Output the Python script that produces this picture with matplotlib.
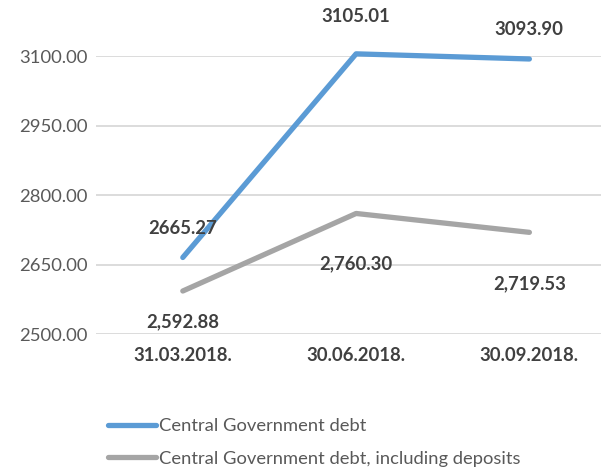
import matplotlib.pyplot as plt
from matplotlib.lines import Line2D

# data
dates = ['31.03.2018.', '30.06.2018.', '30.09.2018.']
debt = [2665.27, 3105.01, 3093.90]
debt_dep = [2592.88, 2760.30, 2719.53]
debt_labels = ['2665.27', '3105.01', '3093.90']
dep_labels = ['2,592.88', '2,760.30', '2,719.53']
yticks = [2500, 2650, 2800, 2950, 3100]

plt.rcParams['font.family'] = ['Lato', 'DejaVu Sans']

blue = '#5B9BD5'
grey = '#A5A5A5'

fig = plt.figure(figsize=(6.01, 4.68), dpi=100)
ax = fig.add_axes([0.16, 0.2863, 0.865, 0.5937])

x = range(len(dates))
ax.plot(x, debt, color=blue, lw=3.8, solid_capstyle='round', clip_on=False, zorder=3)
ax.plot(x, debt_dep, color=grey, lw=3.8, solid_capstyle='round', clip_on=False, zorder=3)

# label offsets in points (above for blue, below for grey)
up = [21, 27, 21]
down = [-22, -36, -37]
for i in x:
    ax.annotate(debt_labels[i], (i, debt[i]), xytext=(0, up[i]), textcoords='offset points',
                ha='center', va='center', fontsize=13.3, fontweight='bold', color='#404040',
                annotation_clip=False)
    ax.annotate(dep_labels[i], (i, debt_dep[i]), xytext=(0, down[i]), textcoords='offset points',
                ha='center', va='center', fontsize=13.3, fontweight='bold', color='#404040',
                annotation_clip=False)

ax.set_xlim(-0.5, 2.5)
ax.set_ylim(2500, 3100)
ax.set_yticks(yticks)
ax.set_yticklabels(['%.2f' % v for v in yticks])
ax.set_xticks(list(x))
ax.set_xticklabels(dates, fontweight='bold')
ax.tick_params(axis='y', length=0, pad=6, labelsize=13.3, labelcolor='#595959')
ax.tick_params(axis='x', length=0, pad=9, labelsize=13.3, labelcolor='#404040')
ax.grid(axis='y', color='#D9D9D9', lw=1.3)
ax.set_axisbelow(True)
for s in ax.spines.values():
    s.set_visible(False)

handles = [Line2D([], [], color=blue, lw=3.8, solid_capstyle='round'),
           Line2D([], [], color=grey, lw=3.8, solid_capstyle='round')]
fig.legend(handles, ['Central Government debt', 'Central Government debt, including deposits'],
           loc='upper left', bbox_to_anchor=(0.18, 0.106), frameon=False,
           fontsize=13.2, labelcolor='#595959', handlelength=2.6, handletextpad=0.15,
           labelspacing=0.9, borderpad=0, borderaxespad=0)

fig.savefig('out.png', dpi=100)
